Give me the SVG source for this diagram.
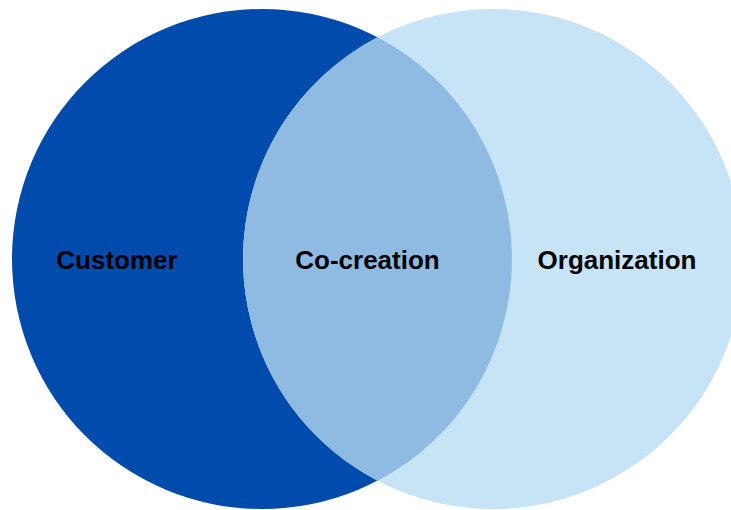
<svg xmlns="http://www.w3.org/2000/svg" width="731" height="510" viewBox="0 0 731 510">
<style>
.lbl{font-family:"Liberation Sans",Arial,sans-serif;font-weight:bold;font-size:26px;fill:#000;text-anchor:middle}
</style>
<rect width="731" height="510" fill="#fff"/>
<g id="customer">
<circle cx="262" cy="259" r="250" fill="#014BAC"/>
<text class="lbl" x="117" y="269">Customer</text>
</g>
<g id="organization">
<circle cx="493" cy="259" r="250" fill="#C6E4F5"/>
<text class="lbl" x="617" y="269">Organization</text>
</g>
<g id="co-creation">
<path d="M377.5 37.3 A250 250 0 0 1 377.5 480.7 A250 250 0 0 1 377.5 37.3 Z" fill="#8FBBE2"/>
<text class="lbl" x="367.5" y="269">Co-creation</text>
</g>
<g id="connectors"/>
</svg>
